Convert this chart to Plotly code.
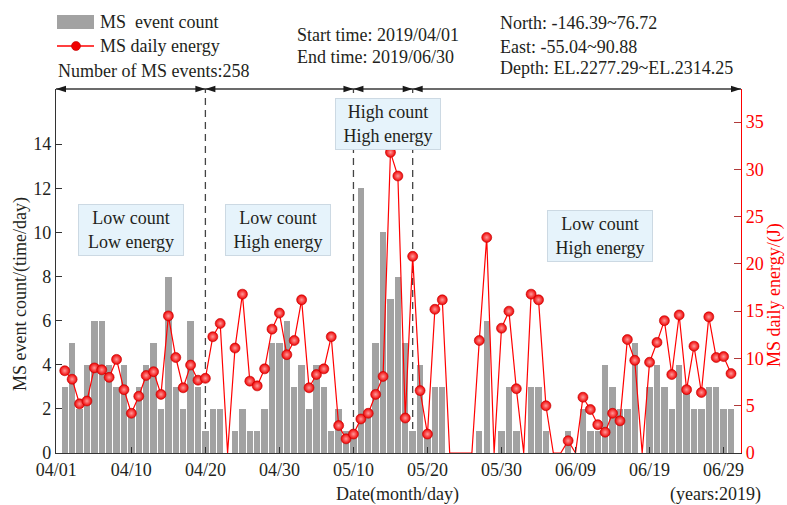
import pandas as pd
import plotly.graph_objects as go

# ---------------- data ----------------
dates = list(pd.date_range("2019-04-01", "2019-06-30").strftime("%m/%d"))

event_count = [3, 5, 2, 4, 6, 6, 4, 3, 4, 2,
               3, 4, 5, 2, 8, 3, 2, 6, 3, 1,
               2, 2, 0, 1, 2, 1, 1, 2, 5, 5,
               6, 3, 4, 2, 4, 3, 1, 2, 1, 1,
               12, 2, 5, 10, 7, 8, 5, 1, 4, 1,
               3, 3, 0, 0, 0, 0, 1, 6, 0, 1,
               3, 1, 0, 3, 3, 1, 0, 0, 1, 0,
               2, 1, 1, 4, 3, 2, 2, 5, 0, 3,
               4, 3, 2, 4, 3, 2, 2, 3, 3, 2, 2]

daily_energy = [8.7, 7.8, 5.2, 5.5, 9.0, 8.8, 8.0, 9.9, 6.7, 4.2,
                6.0, 8.2, 8.6, 6.2, 14.5, 10.1, 6.9, 9.3, 7.7, 7.9,
                12.3, 13.7, 0, 11.1, 16.8, 7.6, 7.1, 8.9, 13.1, 14.8,
                10.4, 11.9, 16.2, 6.9, 8.3, 8.9, 12.3, 2.9, 1.5, 2.0,
                3.6, 4.2, 6.2, 8.1, 31.8, 29.3, 3.7, 20.8, 6.6, 2.0,
                15.2, 16.2, 0, 0, 0, 0, 11.9, 22.8, 0, 13.2,
                15.0, 6.8, 0, 16.8, 16.2, 5.0, 0, 0, 1.3, 0,
                5.9, 4.6, 3.0, 2.2, 4.2, 3.4, 12.0, 9.8, 0, 9.6,
                11.7, 14.0, 8.3, 14.6, 6.7, 11.3, 6.4, 14.4, 10.1, 10.2, 8.4]

tick_labels = ["04/01", "04/10", "04/20", "04/30", "05/10", "05/20",
               "05/30", "06/09", "06/19", "06/29"]
left_ticks = [0, 2, 4, 6, 8, 10, 12, 14]
right_ticks = [0, 5, 10, 15, 20, 25, 30, 35]
phase_bounds = ["04/20", "05/10", "05/18"]
phase_labels = ["Low count<br>Low energy", "Low count<br>High energy",
                "High count<br>High energy", "Low count<br>High energy"]

# ---------------- geometry ----------------
FONT = "Liberation Serif"
TXT = "#231F20"
L, T, W, H = 56, 89, 685, 364          # plot area in pixels
X_MIN, X_MAX = -1.18, 91.35


def px(x):
    return (x - L) / W


def py(y):
    return (T + H - y) / H


x = list(range(len(dates)))
bounds = [dates.index(d) for d in phase_bounds]
tickvals = [X_MIN + 0.02] + [dates.index(t) for t in tick_labels[1:]]
marker_energy = [v if v > 0 else None for v in daily_energy]

fig = go.Figure()
fig.add_trace(go.Bar(x=x, y=event_count, width=0.86,
                     marker=dict(color="#A2A2A2", line=dict(width=0)),
                     name="MS  event count"))
fig.add_trace(go.Scatter(x=x, y=daily_energy, yaxis="y2", mode="lines",
                         line=dict(color="#FF0000", width=1.2),
                         name="MS daily energy"))
fig.add_trace(go.Scatter(x=x, y=marker_energy, yaxis="y2", mode="markers",
                         marker=dict(size=10, color="#F00000",
                                     gradient=dict(type="radial", color="#FF9A9A"),
                                     line=dict(width=0.6, color="#C00000")),
                         showlegend=False))

shapes = []
# dashed phase boundaries
for b in bounds:
    shapes.append(dict(type="line", xref="x", yref="paper", x0=b, x1=b, y0=0, y1=1,
                       line=dict(color="#444", width=1.3, dash="7px,5px"), layer="below"))
# top arrow line
shapes.append(dict(type="line", xref="x", yref="paper", x0=X_MIN, x1=X_MAX, y0=1, y1=1,
                   line=dict(color="#3A3A3A", width=1.3)))
ends = [X_MIN] + bounds + [X_MAX]
for i in range(len(ends) - 1):
    a, b = ends[i], ends[i + 1]
    shapes.append(dict(type="path", xref="x", yref="paper", xsizemode="pixel",
                       ysizemode="pixel", xanchor=a, yanchor=1,
                       path="M0,0 L10,3.2 L10,-3.2 Z",
                       fillcolor="#1A1A1A", line=dict(width=0)))
    shapes.append(dict(type="path", xref="x", yref="paper", xsizemode="pixel",
                       ysizemode="pixel", xanchor=b, yanchor=1,
                       path="M0,0 L-10,3.2 L-10,-3.2 Z",
                       fillcolor="#1A1A1A", line=dict(width=0)))

# manual legend
shapes.append(dict(type="rect", xref="paper", yref="paper",
                   x0=px(57), x1=px(94), y0=py(29), y1=py(15),
                   fillcolor="#A2A2A2", line=dict(width=0)))
shapes.append(dict(type="line", xref="paper", yref="paper",
                   x0=px(57), x1=px(94), y0=py(46), y1=py(46),
                   line=dict(color="#FF0000", width=1.5)))
shapes.append(dict(type="circle", xref="paper", yref="paper", xsizemode="pixel",
                   ysizemode="pixel", xanchor=px(76), yanchor=py(46),
                   x0=-4.5, x1=4.5, y0=-4.5, y1=4.5,
                   fillcolor="#F00000", line=dict(color="#C00000", width=0.6)))

ann = []


def text(t, x0, y0, anchor="left", color=TXT, size=18, angle=0):
    ann.append(dict(text=t, xref="paper", yref="paper", x=px(x0), y=py(y0),
                    xanchor=anchor, yanchor="middle", showarrow=False,
                    textangle=angle, font=dict(family=FONT, size=size, color=color)))


text("MS\u00a0 event count", 98, 22)
text("MS daily energy", 98, 46)
text("Number of MS events:258", 56, 71)
text("Start time: 2019/04/01", 295, 35)
text("End time: 2019/06/30", 295, 57)
text("North: -146.39~76.72", 498, 23)
text("East: -55.04~90.88", 498, 47)
text("Depth: EL.2277.29~EL.2314.25", 498, 68)
text("Date(month/day)", 397, 494, anchor="center")
text("(years:2019)", 715, 494, anchor="center")
text("MS event count/(time/day)", 20, 294, anchor="center", angle=-90)
text("MS daily energy/(J)", 774, 295, anchor="center", color="#FF0000", angle=-90)

box_pos = [(131, 230), (277.5, 230), (388.3, 123.7), (600, 236)]
for lab, (bx, by) in zip(phase_labels, box_pos):
    ann.append(dict(text=lab, xref="paper", yref="paper", x=px(bx), y=py(by),
                    xanchor="center", yanchor="middle", showarrow=False,
                    width=100, height=46, borderpad=2,
                    bgcolor="#E6F3FB", bordercolor="#CCD9E3", borderwidth=1,
                    font=dict(family=FONT, size=18, color=TXT)))

fig.update_layout(
    width=787, height=505,
    margin=dict(l=L, r=787 - L - W, t=T, b=505 - T - H),
    paper_bgcolor="white", plot_bgcolor="white",
    showlegend=False, bargap=0,
    font=dict(family=FONT, size=18, color=TXT),
    xaxis=dict(range=[X_MIN, X_MAX], tickvals=tickvals, ticktext=tick_labels,
               ticks="inside", ticklen=6, tickcolor="#333", tickwidth=1.2,
               showline=True, linecolor="#333", linewidth=1.3, showgrid=False,
               zeroline=False, tickfont=dict(family=FONT, size=18, color=TXT)),
    yaxis=dict(range=[0, 16.5], tickvals=left_ticks, ticks="inside", ticklen=6,
               tickcolor="#333", tickwidth=1.2, showline=True, linecolor="#333",
               linewidth=1.3, showgrid=False, zeroline=False,
               tickfont=dict(family=FONT, size=18, color=TXT)),
    yaxis2=dict(range=[0, 38.5], tickvals=right_ticks, overlaying="y", side="right",
                ticks="inside", ticklen=7, tickcolor="#B03A3A", tickwidth=1.2,
                showline=True, linecolor="#FF0000", linewidth=1.3, showgrid=False,
                zeroline=False, tickfont=dict(family=FONT, size=18, color="#FF0000")),
    shapes=shapes, annotations=ann,
)

fig.write_html("out.html", config={"displayModeBar": False},
               post_script="document.body.style.margin='0';"
                           "document.body.style.overflow='hidden';")
